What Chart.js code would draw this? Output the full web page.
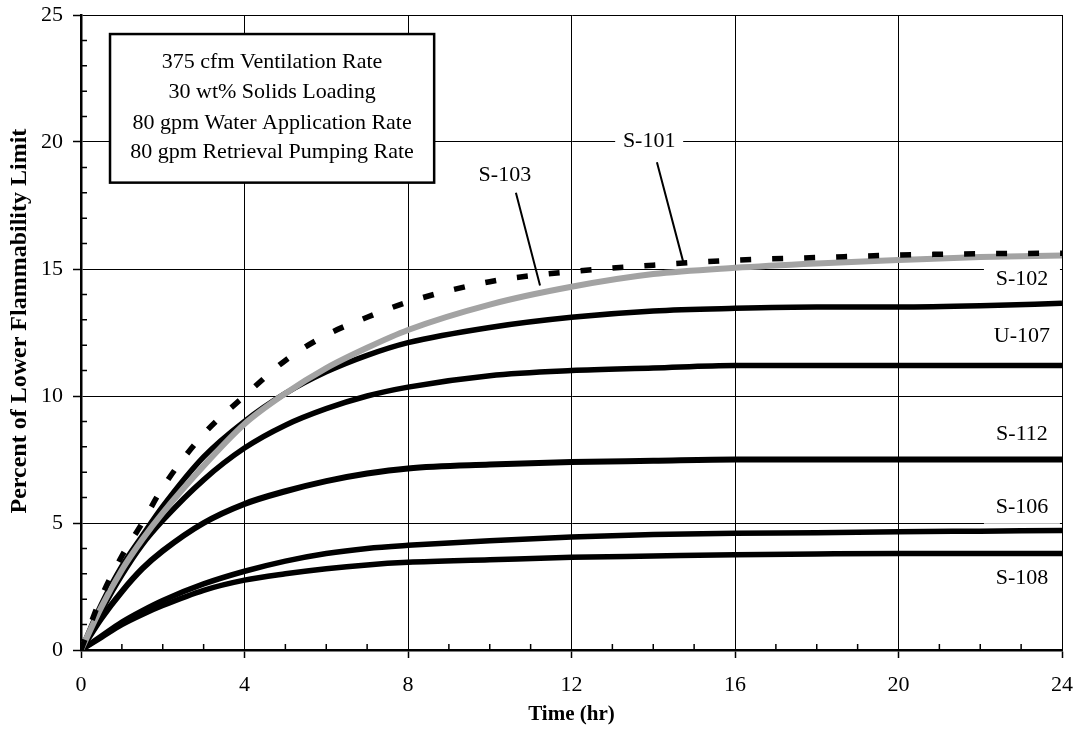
<!DOCTYPE html>
<html>
<head>
<meta charset="utf-8">
<script src="https://cdn.jsdelivr.net/npm/chart.js@4.4.1/dist/chart.umd.min.js"></script>
<style>
  html, body { margin: 0; padding: 0; background: #fff; }
  #wrap { width: 1075px; height: 738px; }
</style>
</head>
<body>
<div id="wrap"><canvas id="lfl" width="1075" height="738"></canvas></div>
<script>
// time axis (hr) and % LFL for each tank
const hours = [0, 0.5, 1, 1.5, 2, 3, 4, 5, 6, 7, 8, 10, 12, 14, 16, 18, 20, 22, 24];
const s101 = [0, 2.1, 3.7, 5.0, 6.4, 8.5, 10.0, 11.4, 12.4, 13.1, 13.7, 14.5, 14.9, 15.15, 15.35, 15.45, 15.55, 15.6, 15.62];
const s103 = [0, 1.7, 3.15, 4.35, 5.4, 7.25, 8.9, 10.1, 11.1, 11.9, 12.6, 13.6, 14.3, 14.8, 15.05, 15.22, 15.35, 15.47, 15.53];
const s102 = [0, 1.8, 3.3, 4.5, 5.65, 7.6, 9.0, 10.1, 10.95, 11.6, 12.1, 12.7, 13.1, 13.35, 13.45, 13.5, 13.5, 13.55, 13.65];
const u107 = [0, 1.55, 2.95, 4.15, 5.1, 6.7, 7.95, 8.85, 9.5, 10.0, 10.35, 10.8, 11.0, 11.1, 11.2, 11.2, 11.2, 11.2, 11.2];
const s112 = [0, 1.25, 2.3, 3.2, 3.9, 5.0, 5.75, 6.25, 6.65, 6.95, 7.15, 7.3, 7.4, 7.45, 7.5, 7.5, 7.5, 7.5, 7.5];
const s106 = [0, 0.55, 1.1, 1.55, 1.95, 2.6, 3.1, 3.5, 3.8, 4.0, 4.12, 4.3, 4.45, 4.55, 4.6, 4.62, 4.66, 4.68, 4.7];
const s108 = [0, 0.5, 1.0, 1.4, 1.75, 2.35, 2.75, 3.0, 3.2, 3.35, 3.45, 3.55, 3.65, 3.7, 3.75, 3.78, 3.8, 3.8, 3.8];

const xTickValues = [0, 4, 8, 12, 16, 20, 24];
const yTickValues = [0, 5, 10, 15, 20, 25];

const boxLines = [
    '375 cfm Ventilation Rate',
    '30 wt% Solids Loading',
    '80 gpm Water Application Rate',
    '80 gpm Retrieval Pumping Rate'
];

const serif = '"Liberation Serif", "Times New Roman", serif';

const pts = (ys) => hours.map((h, i) => ({ x: h, y: ys[i] }));

function series(label, ys, opts) {
    return Object.assign({
        label: label,
        data: pts(ys),
        borderColor: '#000',
        borderWidth: 5.5,
        pointRadius: 0,
        fill: false,
        cubicInterpolationMode: 'monotone',
        borderCapStyle: 'butt'
    }, opts);
}

// labels, arrows, note box, minor ticks, y title
const decorations = {
    id: 'decorations',
    afterDraw(chart) {
        const { ctx, chartArea: a, scales: { x, y } } = chart;
        const px = (t) => x.getPixelForValue(t);
        const py = (v) => y.getPixelForValue(v);
        ctx.save();

        // minor ticks, inside the axes
        ctx.strokeStyle = '#000';
        ctx.lineWidth = 1.5;
        ctx.beginPath();
        for (let t = 1; t < 24; t++) {
            if (t % 4 === 0) continue;
            ctx.moveTo(px(t), a.bottom);
            ctx.lineTo(px(t), a.bottom - 6);
        }
        for (let v = 1; v < 25; v++) {
            if (v % 5 === 0) continue;
            ctx.moveTo(a.left, py(v));
            ctx.lineTo(a.left + 6, py(v));
        }
        ctx.stroke();

        // note box
        const bx0 = px(0.71), bx1 = px(8.64), by0 = py(24.25), by1 = py(18.4);
        ctx.fillStyle = '#fff';
        ctx.fillRect(bx0, by0, bx1 - bx0, by1 - by0);
        ctx.lineWidth = 2.5;
        ctx.strokeRect(bx0, by0, bx1 - bx0, by1 - by0);
        ctx.fillStyle = '#000';
        ctx.font = '22px ' + serif;
        ctx.textAlign = 'center';
        ctx.textBaseline = 'middle';
        const lineVals = [23.15, 21.96, 20.74, 19.6];
        boxLines.forEach((s, i) => ctx.fillText(s, (bx0 + bx1) / 2, py(lineVals[i])));

        // curve labels
        const labels = [
            ['S-101', 13.9, 20.05, 34, 12],
            ['S-103', 10.37, 18.69, 0, 0],
            ['S-102', 23.02, 14.6, 38, 17],
            ['U-107', 23.02, 12.34, 0, 0],
            ['S-112', 23.02, 8.48, 0, 0],
            ['S-106', 23.02, 5.64, 38, 17],
            ['S-108', 23.02, 2.84, 0, 0]
        ];
        labels.forEach(([txt, t, v, hw, hh]) => {
            if (hw) {
                ctx.fillStyle = '#fff';
                ctx.fillRect(px(t) - hw, py(v) - hh, hw * 2, hh * 2);
            }
            ctx.fillStyle = '#000';
            ctx.fillText(txt, px(t), py(v));
        });

        // leader lines
        ctx.lineWidth = 2;
        ctx.beginPath();
        ctx.moveTo(px(14.09), py(19.2));
        ctx.lineTo(px(14.73), py(15.3));
        ctx.moveTo(px(10.64), py(18.0));
        ctx.lineTo(px(11.23), py(14.35));
        ctx.stroke();

        // y axis title, a little above centre as in the original
        ctx.translate(20, py(12.95));
        ctx.rotate(-Math.PI / 2);
        ctx.font = 'bold 24px ' + serif;
        ctx.fillText('Percent of Lower Flammability Limit', 0, 0);
        ctx.restore();
    }
};

document.addEventListener('DOMContentLoaded', () => {
    const ctx = document.getElementById('lfl')?.getContext('2d');
    if (!ctx) return;

    const data = {
        datasets: [
            series('S-101', s101, { borderDash: [11, 21], order: 0 }),
            series('S-103', s103, { borderColor: '#a3a3a3', borderWidth: 6, order: 1 }),
            series('S-102', s102, { order: 2 }),
            series('U-107', u107, { order: 3 }),
            series('S-112', s112, { borderWidth: 6, order: 4 }),
            series('S-106', s106, { order: 5 }),
            series('S-108', s108, { order: 6 })
        ]
    };

    const config = {
        type: 'line',
        data: data,
        options: {
            responsive: false,
            animation: false,
            devicePixelRatio: 1,
            layout: { padding: { top: 15, right: 13, left: 0, bottom: 0 } },
            plugins: { legend: { display: false }, tooltip: { enabled: false } },
            scales: {
                x: {
                    type: 'linear',
                    min: 0,
                    max: 24,
                    afterBuildTicks: (s) => { s.ticks = xTickValues.map(v => ({ value: v })); },
                    afterFit: (s) => { s.height = 88; s.paddingLeft = 0; s.paddingRight = 0; },
                    ticks: { color: '#000', font: { family: serif, size: 22 }, padding: 14, maxRotation: 0 },
                    grid: { color: '#000', lineWidth: 1, tickLength: 8, tickColor: '#000', tickWidth: 1.5 },
                    border: { color: '#000', width: 2.5 },
                    title: { display: true, text: 'Time (hr)', color: '#000', font: { family: serif, size: 21, weight: 'bold' }, padding: { top: 11, bottom: 11 } }
                },
                y: {
                    min: 0,
                    max: 25,
                    afterBuildTicks: (s) => { s.ticks = yTickValues.map(v => ({ value: v })); },
                    afterFit: (s) => { s.width = 81; s.paddingTop = 0; s.paddingBottom = 0; },
                    ticks: { color: '#000', font: { family: serif, size: 22 }, padding: 10 },
                    grid: { color: '#000', lineWidth: 1, tickLength: 8, tickColor: '#000', tickWidth: 1.5 },
                    border: { color: '#000', width: 2.5 }
                }
            }
        },
        plugins: [decorations]
    };

    new Chart(ctx, config);
});
</script>
</body>
</html>
